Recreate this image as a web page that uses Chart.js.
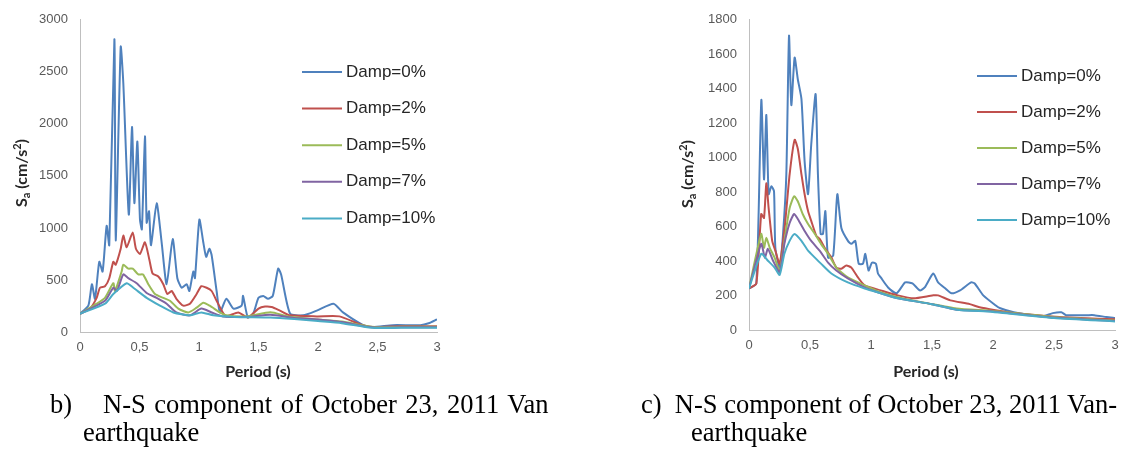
<!DOCTYPE html>
<html lang="en">
<head>
<meta charset="UTF-8">
<title>Response spectra - Van earthquake</title>
<script src="https://cdn.jsdelivr.net/npm/chart.js"></script>
<style>
  body { margin: 0; background: #fff; }
  #page { position: relative; width: 1131px; height: 452px; overflow: hidden; background: #fff; }
  .box { position: absolute; top: 0; height: 390px; }
  .cap { position: absolute; font-family: "Liberation Serif", "Times New Roman", serif; font-size: 26.5px; color: #000; white-space: nowrap; }
</style>
</head>
<body>
<div id="page">
  <div class="box" style="left:0;width:560px"><canvas id="chartB"></canvas></div>
  <div class="box" style="left:560px;width:571px"><canvas id="chartC"></canvas></div>
  <div class="cap" style="left:50px;top:389px">b)</div>
  <div class="cap" style="left:103px;top:389px;word-spacing:2px">N-S component of October 23, 2011 Van</div>
  <div class="cap" style="left:83px;top:417px">earthquake</div>
  <div class="cap" style="left:641px;top:389px">c)&nbsp; N-S component of October 23, 2011 Van-</div>
  <div class="cap" style="left:691px;top:417px">earthquake</div>
</div>

<script>
// labels and ticks
const dampLabels = ['Damp=0%', 'Damp=2%', 'Damp=5%', 'Damp=7%', 'Damp=10%'];
const dampColors = ['#4F81BD', '#C0504D', '#9BBB59', '#8064A2', '#4BACC6'];
const xTicks = [0, 0.5, 1, 1.5, 2, 2.5, 3];
const xTickLabels = ['0', '0,5', '1', '1,5', '2', '2,5', '3'];
const yTicksB = [0, 500, 1000, 1500, 2000, 2500, 3000];
const yTicksC = [0, 200, 400, 600, 800, 1000, 1200, 1400, 1600, 1800];

// b) period (s) and Sa (cm/s2), one pair per damping
const tB0 = [0, 0.07, 0.10, 0.126, 0.162, 0.19, 0.224, 0.246, 0.289, 0.30, 0.342, 0.364, 0.41, 0.437, 0.457, 0.482, 0.504, 0.52, 0.546, 0.56, 0.58, 0.597, 0.644, 0.686, 0.728, 0.779, 0.818, 0.854, 0.896, 0.919, 0.952, 0.966, 1.003, 1.036, 1.06, 1.087, 1.106, 1.148, 1.176, 1.23, 1.29, 1.358, 1.37, 1.41, 1.456, 1.5, 1.54, 1.58, 1.62, 1.665, 1.69, 1.765, 1.875, 1.99, 2.13, 2.21, 2.38, 2.46, 2.63, 2.86, 2.93, 3.0];
const sB0 = [175, 253, 459, 319, 675, 581, 1020, 834, 2813, 880, 2740, 2390, 1128, 1970, 1238, 1830, 1080, 987, 1880, 1050, 1160, 834, 1238, 862, 459, 893, 517, 425, 459, 394, 581, 517, 1080, 862, 722, 800, 740, 394, 188, 319, 225, 253, 347, 140, 178, 328, 347, 319, 347, 609, 553, 178, 160, 206, 272, 188, 66, 47, 66, 66, 84, 122];

const tB2 = [0, 0.084, 0.14, 0.168, 0.21, 0.246, 0.28, 0.30, 0.342, 0.364, 0.392, 0.443, 0.47, 0.504, 0.546, 0.583, 0.61, 0.658, 0.70, 0.734, 0.77, 0.81, 0.868, 0.924, 0.98, 1.02, 1.064, 1.106, 1.148, 1.2, 1.23, 1.33, 1.41, 1.5, 1.555, 1.61, 1.68, 1.765, 1.99, 2.18, 2.35, 2.46, 2.69, 3.0];
const sB2 = [175, 225, 328, 425, 440, 517, 675, 647, 800, 928, 815, 956, 800, 750, 862, 694, 562, 534, 459, 365, 394, 319, 253, 272, 365, 440, 425, 394, 300, 188, 150, 188, 140, 225, 244, 240, 206, 160, 150, 150, 75, 47, 56, 56];

const tB5 = [0, 0.14, 0.21, 0.28, 0.294, 0.35, 0.364, 0.406, 0.443, 0.49, 0.53, 0.574, 0.63, 0.70, 0.756, 0.826, 0.91, 0.98, 1.036, 1.09, 1.176, 1.23, 1.4, 1.6, 1.75, 2.0, 2.2, 2.45, 2.7, 3.0];
const sB5 = [175, 272, 328, 469, 394, 581, 647, 609, 609, 553, 553, 459, 365, 328, 300, 225, 188, 234, 281, 253, 188, 160, 150, 190, 150, 120, 100, 50, 50, 50];

const tB7 = [0, 0.21, 0.28, 0.31, 0.364, 0.406, 0.476, 0.56, 0.644, 0.728, 0.81, 0.924, 1.02, 1.106, 1.2, 1.4, 1.6, 1.8, 2.0, 2.2, 2.45, 2.7, 3.0];
const sB7 = [175, 300, 425, 394, 553, 517, 469, 375, 328, 272, 188, 160, 225, 188, 150, 145, 165, 135, 120, 95, 45, 45, 45];

const tB10 = [0, 0.21, 0.28, 0.392, 0.448, 0.56, 0.672, 0.784, 0.924, 1.02, 1.12, 1.3, 1.6, 1.8, 2.0, 2.2, 2.45, 2.7, 3.0];
const sB10 = [175, 272, 365, 469, 425, 328, 253, 188, 160, 188, 160, 145, 140, 125, 105, 85, 40, 40, 40];

// c) period (s) and Sa (cm/s2), one pair per damping
const tC0 = [0, 0.06, 0.101, 0.123, 0.142, 0.161, 0.183, 0.205, 0.216, 0.251, 0.279, 0.306, 0.328, 0.347, 0.374, 0.40, 0.43, 0.456, 0.484, 0.51, 0.546, 0.565, 0.587, 0.606, 0.626, 0.648, 0.69, 0.724, 0.757, 0.811, 0.839, 0.871, 0.899, 0.934, 0.953, 0.98, 1.008, 1.04, 1.057, 1.08, 1.14, 1.21, 1.28, 1.34, 1.40, 1.44, 1.51, 1.55, 1.61, 1.66, 1.73, 1.82, 1.85, 1.92, 2.02, 2.06, 2.17, 2.33, 2.41, 2.49, 2.56, 2.60, 2.77, 2.83, 2.93, 3.0];
const sC0 = [241, 270, 1334, 874, 1248, 788, 834, 805, 477, 362, 557, 903, 1707, 1305, 1581, 1455, 1340, 977, 788, 1075, 1369, 903, 557, 557, 690, 420, 431, 788, 592, 517, 500, 517, 385, 385, 442, 345, 391, 385, 328, 305, 247, 213, 276, 270, 230, 247, 328, 276, 241, 213, 230, 276, 270, 201, 144, 126, 103, 86, 80, 98, 103, 86, 86, 86, 75, 69];

const tC2 = [0, 0.06, 0.10, 0.123, 0.142, 0.161, 0.19, 0.216, 0.251, 0.292, 0.333, 0.374, 0.40, 0.43, 0.456, 0.484, 0.51, 0.552, 0.579, 0.62, 0.675, 0.716, 0.757, 0.798, 0.839, 0.893, 0.948, 1.08, 1.22, 1.35, 1.51, 1.55, 1.65, 1.81, 1.89, 2.02, 2.17, 2.45, 2.72, 3.0];
const sC2 = [241, 270, 673, 650, 851, 707, 517, 460, 385, 592, 903, 1104, 1052, 903, 788, 690, 633, 546, 529, 477, 420, 362, 356, 374, 362, 305, 259, 230, 201, 184, 201, 201, 172, 150, 132, 115, 98, 80, 69, 63];

const tC5 = [0, 0.1, 0.123, 0.142, 0.17, 0.21, 0.251, 0.29, 0.333, 0.37, 0.40, 0.44, 0.484, 0.54, 0.59, 0.648, 0.716, 0.81, 0.948, 1.08, 1.22, 1.5, 1.7, 2.0, 2.5, 3.0];
const sC5 = [241, 557, 477, 535, 477, 420, 340, 517, 707, 776, 747, 673, 615, 557, 500, 442, 362, 305, 259, 219, 190, 150, 125, 110, 75, 55];

const tC7 = [0, 0.1, 0.13, 0.155, 0.197, 0.251, 0.29, 0.333, 0.37, 0.40, 0.456, 0.51, 0.579, 0.648, 0.716, 0.81, 0.948, 1.08, 1.22, 1.5, 1.7, 2.0, 2.5, 3.0];
const sC7 = [241, 500, 420, 471, 402, 335, 500, 621, 673, 644, 575, 517, 460, 391, 345, 299, 247, 213, 184, 150, 118, 108, 72, 52];

const tC10 = [0, 0.1, 0.155, 0.21, 0.251, 0.29, 0.333, 0.374, 0.43, 0.484, 0.54, 0.59, 0.675, 0.81, 0.948, 1.08, 1.22, 1.5, 1.7, 2.0, 2.5, 3.0];
const sC10 = [241, 442, 402, 362, 320, 442, 517, 557, 517, 460, 420, 385, 328, 276, 241, 213, 184, 150, 118, 105, 70, 50];

function pts(t, s) {
  return t.map((x, i) => ({ x: x, y: s[i] }));
}

function makeSets(pairs) {
  return pairs.map((p, i) => ({
    label: dampLabels[i],
    data: pts(p[0], p[1]),
    borderColor: dampColors[i],
    backgroundColor: dampColors[i],
    borderWidth: 2,
    pointRadius: 0,
    tension: 0.2,
    order: pairs.length - i   // later series drawn on top, like Excel
  }));
}

// axis titles and the legend that sits inside the plot
const decorations = {
  id: 'decorations',
  afterDraw(chart, args, o) {
    const ctx = chart.ctx;
    ctx.save();
    ctx.textBaseline = 'middle';
    chart.data.datasets.forEach((ds, i) => {
      const y = o.legendY + i * o.legendStep;
      ctx.strokeStyle = ds.borderColor;
      ctx.lineWidth = 2;
      ctx.beginPath();
      ctx.moveTo(o.legendX, y);
      ctx.lineTo(o.legendX + 40, y);
      ctx.stroke();
      ctx.fillStyle = '#262626';
      ctx.font = '17px "Liberation Sans", Arial, sans-serif';
      ctx.textAlign = 'left';
      ctx.fillText(ds.label, o.legendX + 44, y);
    });

    ctx.fillStyle = '#262626';
    ctx.font = 'bold 16px Lato, sans-serif';
    ctx.textAlign = 'center';
    ctx.fillText('Period (s)', o.xTitle[0], o.xTitle[1]);

    // Sa (cm/s2) with sub and superscript
    ctx.translate(o.yTitle[0], o.yTitle[1]);
    ctx.rotate(-Math.PI / 2);
    const parts = [['S', 16, 0], ['a', 11, 4], [' (cm/s', 16, 0], ['2', 11, -5], [')', 16, 0]];
    let w = 0;
    parts.forEach(p => { ctx.font = 'bold ' + p[1] + 'px Lato, sans-serif'; w += ctx.measureText(p[0]).width; });
    let x = -w / 2;
    ctx.textAlign = 'left';
    parts.forEach(p => {
      ctx.font = 'bold ' + p[1] + 'px Lato, sans-serif';
      ctx.fillText(p[0], x, p[2]);
      x += ctx.measureText(p[0]).width;
    });
    ctx.restore();
  }
};

function makeChart(id, sets, yTicks, yWidth, xHeight, pad, deco) {
  return new Chart(document.getElementById(id), {
    type: 'line',
    data: { datasets: sets },
    options: {
      responsive: true,
      maintainAspectRatio: false,
      animation: false,
      events: [],
      layout: { padding: pad },
      plugins: { legend: { display: false }, tooltip: { enabled: false }, decorations: deco },
      scales: {
        x: {
          type: 'linear', min: 0, max: 3,
          grid: { display: false, drawTicks: false },
          border: { display: true, color: '#bfbfbf', width: 1 },
          afterBuildTicks: a => { a.ticks = xTicks.map(v => ({ value: v })); },
          afterFit: a => { a.height = xHeight; },
          ticks: {
            padding: 8, color: '#595959',
            font: { family: '"Liberation Sans", Arial, sans-serif', size: 13 },
            maxRotation: 0,
            callback: v => xTickLabels[xTicks.indexOf(v)]
          }
        },
        y: {
          min: 0, max: yTicks[yTicks.length - 1],
          grid: { display: false, drawTicks: false },
          border: { display: true, color: '#bfbfbf', width: 1 },
          afterBuildTicks: a => { a.ticks = yTicks.map(v => ({ value: v })); },
          afterFit: a => { a.width = yWidth; },
          ticks: {
            padding: 12, color: '#595959',
            font: { family: '"Liberation Sans", Arial, sans-serif', size: 13 },
            callback: v => String(v)
          }
        }
      }
    },
    plugins: [decorations]
  });
}

makeChart('chartB',
  makeSets([[tB0, sB0], [tB2, sB2], [tB5, sB5], [tB7, sB7], [tB10, sB10]]),
  yTicksB, 80, 58, { left: 0, top: 12, right: 123, bottom: 0 },
  { legendX: 302, legendY: 72, legendStep: 36.6, xTitle: [258, 372], yTitle: [22, 173] });

makeChart('chartC',
  makeSets([[tC0, sC0], [tC2, sC2], [tC5, sC5], [tC7, sC7], [tC10, sC10]]),
  yTicksC, 189, 60, { left: 0, top: 17, right: 16, bottom: 0 },
  { legendX: 417, legendY: 76, legendStep: 36, xTitle: [366, 372], yTitle: [128, 174] });
</script>
</body>
</html>
